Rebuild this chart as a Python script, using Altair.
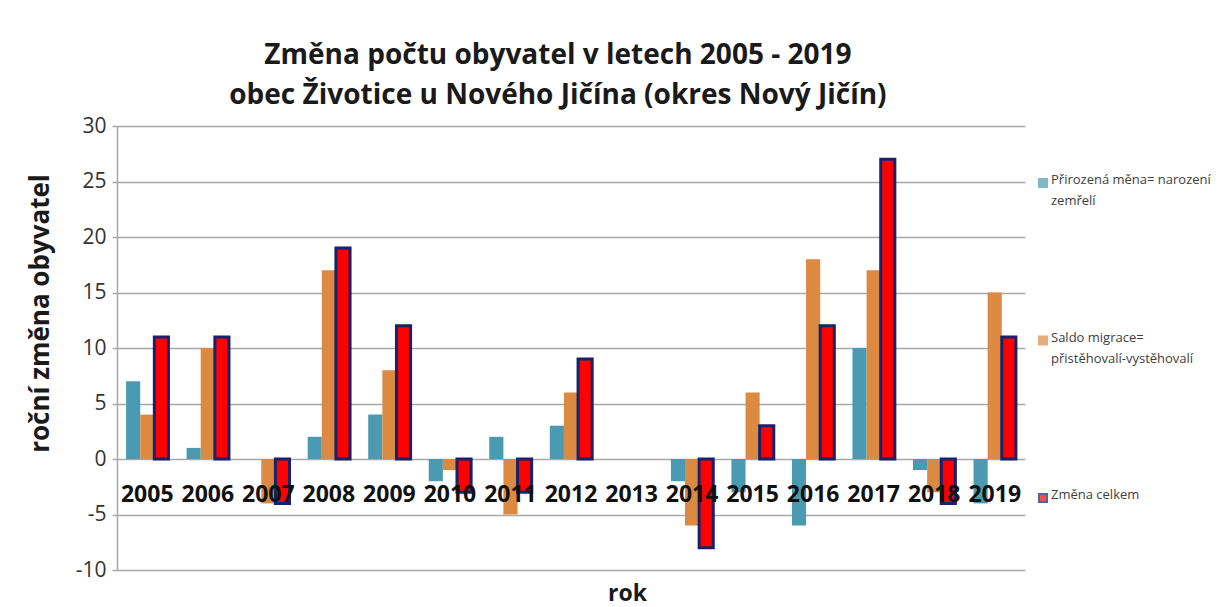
import altair as alt
import pandas as pd

years = ["2005", "2006", "2007", "2008", "2009", "2010", "2011", "2012",
         "2013", "2014", "2015", "2016", "2017", "2018", "2019"]
natural = [7, 1, 0, 2, 4, -2, 2, 3, 0, -2, -3, -6, 10, -1, -4]
migration = [4, 10, -4, 17, 8, -1, -5, 6, 0, -6, 6, 18, 17, -3, 15]
total = [11, 11, -4, 19, 12, -3, -3, 9, 0, -8, 3, 12, 27, -4, 11]

series_names = ["Přirozená měna= narození zemřelí",
                "Saldo migrace= přistěhovalí-vystěhovalí",
                "Změna celkem"]
legend_labels = ["Přirozená měna= narození\nzemřelí",
                 "Saldo migrace=\npřistěhovalí-vystěhovalí",
                 "Změna celkem"]
y_ticks = [-10, -5, 0, 5, 10, 15, 20, 25, 30]

TEAL = "#4A9BB1"
ORANGE = "#DC8A42"
RED = "#FF0000"
NAVY = "#14236B"
GRID = "#A8A8A8"
FONT = "Open Sans"

rows = []
for i, yr in enumerate(years):
    rows.append({"year": yr, "series": series_names[0], "value": natural[i]})
    rows.append({"year": yr, "series": series_names[1], "value": migration[i]})
    rows.append({"year": yr, "series": series_names[2], "value": total[i]})
df = pd.DataFrame(rows)

legend_df = pd.DataFrame({"series": series_names, "label": legend_labels})

color_scale = alt.Scale(domain=series_names, range=[TEAL, ORANGE, RED])

base = alt.Chart(df).encode(
    x=alt.X("year:N", sort=years,
            scale=alt.Scale(paddingInner=0.3, paddingOuter=0.15),
            axis=alt.Axis(title="rok", orient="bottom", offset=-111,
                          domain=False, ticks=False, labelAngle=0,
                          labelOverlap=False, labelFontSize=23,
                          labelFontWeight="bold", labelColor="#111111",
                          labelFont=FONT,
                          labelBaseline="middle", labelPadding=35,
                          titleFontSize=23, titleFontWeight="bold",
                          titleFont=FONT,
                          titleColor="#1a1a1a", titleX=510, titleY=134,
                          titleBaseline="middle", zindex=1)),
    xOffset=alt.XOffset("series:N", sort=series_names,
                        scale=alt.Scale(domain=series_names, paddingInner=0, paddingOuter=0)),
    y=alt.Y("value:Q",
            scale=alt.Scale(domain=[-10, 30], nice=False, zero=False),
            axis=alt.Axis(title="roční změna obyvatel", values=y_ticks,
                          labelExpr="datum.value + ''",
                          grid=True, gridColor=GRID, gridWidth=1.5,
                          domainColor=GRID, domainWidth=1.5,
                          tickColor=GRID, tickSize=5, tickWidth=1.5,
                          labelFontSize=21, labelColor="#333333",
                          labelPadding=6, labelFont=FONT,
                          titleFontSize=26, titleFontWeight="bold",
                          titleFont=FONT,
                          titleColor="#1a1a1a", titleX=-77, titleY=187,
                          titleBaseline="middle", titleAlign="center")),
)

bars = base.transform_filter(
    alt.datum.series != series_names[2]
).mark_bar().encode(
    color=alt.Color("series:N", scale=color_scale, legend=None)
)

total_bars = base.transform_filter(
    (alt.datum.series == series_names[2]) & (alt.datum.value != 0)
).mark_bar(fill=RED, stroke=NAVY, strokeWidth=3)

main = alt.layer(bars, total_bars).properties(width=908, height=444)

leg_base = alt.Chart(legend_df).encode(
    y=alt.Y("series:N", sort=series_names,
            scale=alt.Scale(type="point", domain=series_names, range=[57, 372], padding=0),
            axis=None)
)
leg_squares = leg_base.mark_square(size=64, strokeWidth=2).encode(
    x=alt.value(6),
    fill=alt.Fill("series:N", scale=alt.Scale(domain=series_names, range=[TEAL, ORANGE, RED]), legend=None),
    stroke=alt.Stroke("series:N", scale=alt.Scale(domain=series_names, range=[TEAL, ORANGE, NAVY]), legend=None),
)
leg_text = leg_base.mark_text(align="left", baseline="top", dy=-9,
                              lineBreak="\n", lineHeight=21, fontSize=13,
                              font=FONT, color="#404040").encode(
    x=alt.value(14),
    text="label:N",
)
legend = alt.layer(leg_squares, leg_text).properties(width=160, height=444)

chart = alt.hconcat(main, legend, spacing=10).properties(
    title=alt.TitleParams(
        text=["Změna počtu obyvatel v letech 2005 - 2019",
              "obec Životice u Nového Jičína (okres Nový Jičín)"],
        fontSize=28, fontWeight="bold", font=FONT, color="#1a1a1a",
        lineHeight=40, anchor="middle", offset=5, dx=-61),
    padding={"left": 19, "top": 34, "right": 0, "bottom": 3},
).configure(font=FONT).configure_view(strokeWidth=0)

chart.save("out.html", embed_options={"renderer": "svg", "actions": False})
